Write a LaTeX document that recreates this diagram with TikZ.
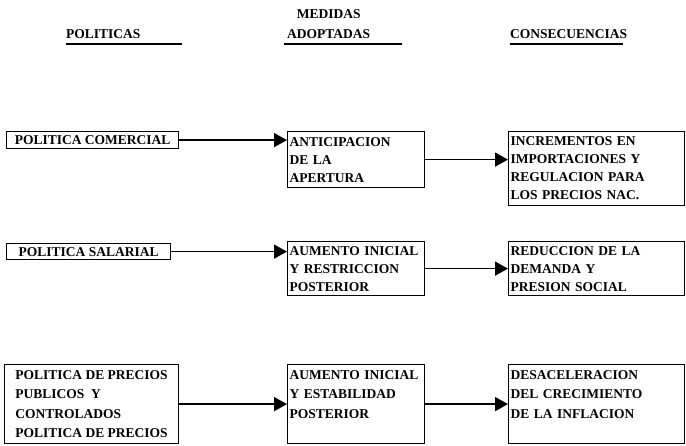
\documentclass[tikz,border=0pt]{standalone}
\usepackage{fontspec}
\setmainfont{Liberation Serif}
\usetikzlibrary{arrows.meta}

\tikzset{
  caja/.style={draw, line width=1.2pt, anchor=north west, align=left,
    inner ysep=0pt, font=\fontsize{13.5}{18}\selectfont\bfseries},
  izq/.style={caja, inner xsep=3pt, minimum width=172pt},
  med/.style={caja, inner xsep=2pt, text width=133pt},
  der/.style={caja, inner xsep=2pt, text width=172pt},
  titulo/.style={inner sep=0pt, anchor=base west, font=\fontsize{13.5}{18}\selectfont\bfseries},
  raya/.style={line width=1.3pt},
  flecha/.style={line width=1.6pt, -{Triangle[length=13pt,width=14pt]}}
}

\begin{document}
\begin{tikzpicture}[x=1pt,y=-1pt]
\useasboundingbox (0,0) rectangle (686,446);
% encabezados
\node[titulo] (tpol) at (66,39) {POLITICAS};
\node[titulo] (tado) at (287,39) {ADOPTADAS};
\node[titulo, anchor=base] (tmed) at ([yshift=20pt]tado.base) {MEDIDAS};
\node[titulo] (tcon) at (510,39) {CONSECUENCIAS};
\draw[raya] (66,44) -- (182,44);
\draw[raya] (284,44) -- (402,44);
\draw[raya] (510,44) -- (623,44);
% fila 1
\node[izq, minimum height=17pt] (pc) at (6,131) {POLITICA COMERCIAL};
\node[med, minimum height=56pt] (mc) at (287,131) {ANTICIPACION\\DE LA\\APERTURA};
\node[der, minimum height=74pt] (rc) at (508,131) {INCREMENTOS EN\\IMPORTACIONES Y\\REGULACION PARA\\LOS PRECIOS NAC.};
\draw[flecha] (pc.east) -- (pc.east -| mc.west);
\draw[flecha] (mc.east) -- (mc.east -| rc.west);
% fila 2
\node[izq, minimum width=164pt, minimum height=16pt] (ps) at (6,243) {POLITICA SALARIAL};
\node[med, minimum height=54pt] (ms) at (287,241) {AUMENTO INICIAL\\Y RESTRICCION\\POSTERIOR};
\node[der, minimum height=54pt] (rs) at (508,241) {REDUCCION DE LA\\DEMANDA Y\\PRESION SOCIAL};
\draw[flecha] (ps.east) -- (ps.east -| ms.west);
\draw[flecha] (ms.east) -- (ms.east -| rs.west);
% fila 3
\node[izq, minimum width=174pt, minimum height=79pt, font=\fontsize{13.5}{19.5}\selectfont\bfseries] (pp) at (4,364)
  {POLITICA DE PRECIOS\\PUBLICOS~~Y\\CONTROLADOS\\POLITICA DE PRECIOS};
\node[med, minimum height=79pt, font=\fontsize{13.5}{19.5}\selectfont\bfseries] (mp) at (287,364)
  {AUMENTO INICIAL\\Y ESTABILIDAD\\POSTERIOR\\\mbox{}};
\node[der, minimum height=79pt, font=\fontsize{13.5}{19.5}\selectfont\bfseries] (rp) at (508,364)
  {DESACELERACION\\DEL CRECIMIENTO\\DE LA INFLACION\\\mbox{}};
\draw[flecha] (pp.east) -- (pp.east -| mp.west);
\draw[flecha] (mp.east) -- (mp.east -| rp.west);
\end{tikzpicture}
\end{document}
